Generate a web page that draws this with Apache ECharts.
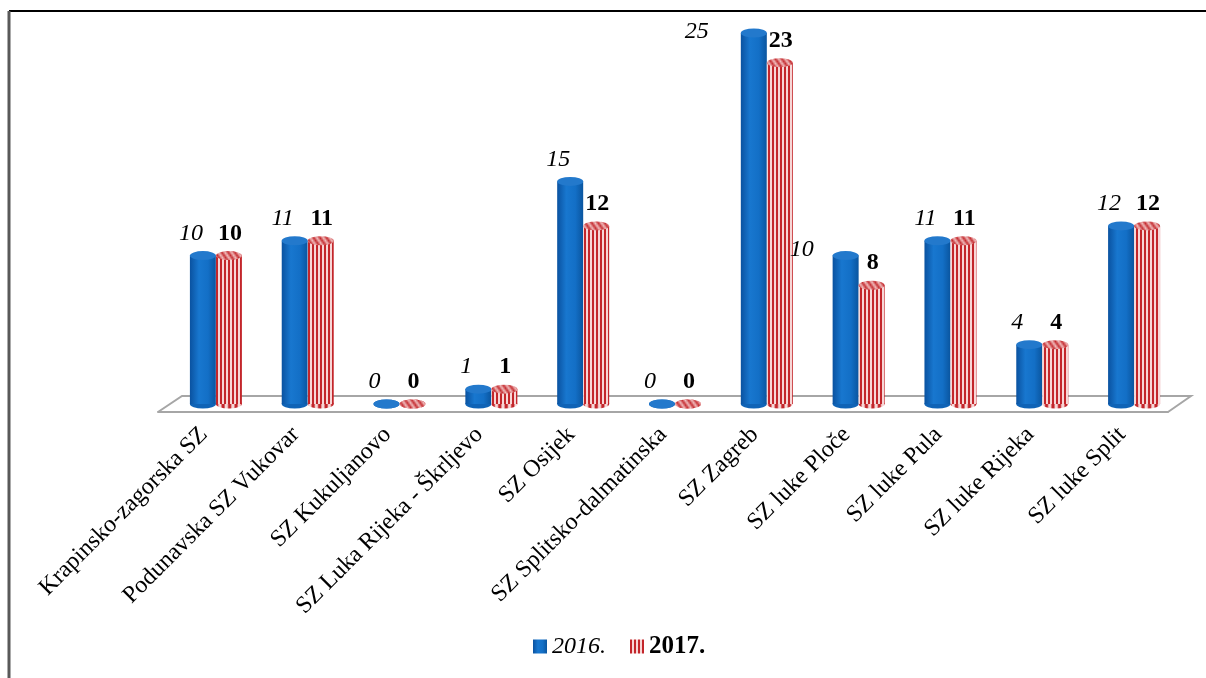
<!DOCTYPE html>
<html>
<head>
<meta charset="utf-8">
<script src="https://cdn.jsdelivr.net/npm/echarts@6/dist/echarts.min.js"></script>
<style>
  html, body { margin: 0; padding: 0; background: #fff; }
  #chart { width: 1206px; height: 678px; }
</style>
</head>
<body>
<div id="chart"></div>
<script>
  const categories = [
    'Krapinsko-zagorska SZ', 'Podunavska SZ Vukovar', 'SZ Kukuljanovo',
    'SZ Luka Rijeka - Škrljevo', 'SZ Osijek', 'SZ Splitsko-dalmatinska',
    'SZ Zagreb', 'SZ luke Ploče', 'SZ luke Pula', 'SZ luke Rijeka', 'SZ luke Split'
  ];
  const values2016 = [10, 11, 0, 1, 15, 0, 25, 10, 11, 4, 12];
  const values2017 = [10, 11, 0, 1, 12, 0, 23, 8, 11, 4, 12];

  const serif = '"Times New Roman", "Liberation Serif", serif';

  // red vertical stripes for 2017
  function stripes() {
    let c = document.createElement('canvas');
    c.width = 4; c.height = 4;
    let ctx = c.getContext('2d');
    ctx.fillStyle = '#f7d6d6';
    ctx.fillRect(0, 0, 4, 4);
    ctx.fillStyle = '#c3262b';
    ctx.fillRect(0, 0, 2, 4);
    return c;
  }
  // diagonal hatch for the tops
  function hatch() {
    let c = document.createElement('canvas');
    c.width = 4; c.height = 4;
    let ctx = c.getContext('2d');
    ctx.fillStyle = '#f2c4c4';
    ctx.fillRect(0, 0, 4, 4);
    ctx.strokeStyle = '#c3262b';
    ctx.lineWidth = 1.4;
    ctx.beginPath();
    ctx.moveTo(0, 4); ctx.lineTo(4, 0);
    ctx.moveTo(-1, 1); ctx.lineTo(1, -1);
    ctx.moveTo(3, 5); ctx.lineTo(5, 3);
    ctx.stroke();
    return c;
  }

  const blueBody = new echarts.graphic.LinearGradient(0, 0, 1, 0, [
    { offset: 0, color: '#0a52a0' },
    { offset: 0.35, color: '#1877cf' },
    { offset: 0.7, color: '#136fc6' },
    { offset: 1, color: '#0a559f' }
  ]);
  const redBody = { image: stripes(), repeat: 'repeat' };

  // 2016 labels for the tallest / crowded bars sit beside the top
  const data2016 = values2016.map(function (v, i) {
    if (i === 6) return { value: v, label: { position: [-44, -13] } };
    if (i === 7) return { value: v, label: { position: [-31, -18] } };
    return v;
  });

  let chart = echarts.init(document.getElementById('chart'));
  chart.setOption({
    animation: false,
    textStyle: { fontFamily: serif },
    grid: [
      { left: 170, right: 26, top: 33, bottom: 274 },
      { left: 158, right: 38, top: 33, bottom: 266 }
    ],
    xAxis: [
      { type: 'category', gridIndex: 0, data: categories, show: false },
      { type: 'category', gridIndex: 1, data: categories,
        axisLine: { lineStyle: { color: '#a6a6a6', width: 2 } },
        axisTick: { length: 8, lineStyle: { color: '#a6a6a6', width: 2 } },
        axisLabel: { rotate: 45, fontSize: 24, color: '#000', fontFamily: serif, margin: 19, interval: 0 } },
      { type: 'category', gridIndex: 0, data: categories, show: false }
    ],
    yAxis: [
      { type: 'value', gridIndex: 0, min: 0, max: 25, show: false },
      { type: 'value', gridIndex: 1, min: 0, max: 1, show: false }
    ],
    legend: {
      bottom: 14,
      left: 528,
      icon: 'rect',
      itemWidth: 14,
      itemHeight: 14,
      itemGap: 24,
      textStyle: { fontSize: 24, color: '#000', fontFamily: serif },
      data: [
        { name: '2016.', textStyle: { fontStyle: 'italic' } },
        { name: '2017.', textStyle: { fontWeight: 'bold', fontSize: 25 } }
      ]
    },
    graphic: [
      { type: 'line', shape: { x1: 9, y1: 11, x2: 1206, y2: 11 }, style: { stroke: '#000', lineWidth: 2 } },
      { type: 'line', shape: { x1: 9, y1: 11, x2: 9, y2: 678 }, style: { stroke: '#595959', lineWidth: 3 } },
      { type: 'polyline', shape: { points: [[158, 412], [182, 396], [1191, 396], [1168, 412]] },
        style: { stroke: '#a6a6a6', lineWidth: 2, fill: null }, z: -1 }
    ],
    series: [
      {
        name: '2016.', type: 'bar', xAxisIndex: 0, yAxisIndex: 0,
        data: data2016, barWidth: 26, barGap: 0, z: 3,
        itemStyle: { color: blueBody },
        label: { show: true, position: 'top', distance: 10, offset: [-12, 0],
          fontSize: 24, fontStyle: 'italic', color: '#000', fontFamily: serif }
      },
      {
        name: '2017.', type: 'bar', xAxisIndex: 0, yAxisIndex: 0,
        data: values2017, barWidth: 26, barGap: 0, z: 3,
        itemStyle: { color: redBody },
        label: { show: true, position: 'top', distance: 10, offset: [1, 0],
          fontSize: 24, fontWeight: 'bold', color: '#000', fontFamily: serif }
      },
      {
        type: 'pictorialBar', xAxisIndex: 0, yAxisIndex: 0,
        data: values2016, barWidth: 26, barGap: 0, z: 4,
        symbol: 'circle', symbolSize: [26, 9], symbolPosition: 'end', symbolOffset: [0, '-50%'],
        itemStyle: { color: '#2379cc' }
      },
      {
        type: 'pictorialBar', xAxisIndex: 0, yAxisIndex: 0,
        data: values2017, barWidth: 26, barGap: 0, z: 4,
        symbol: 'circle', symbolSize: [26, 9], symbolPosition: 'end', symbolOffset: [0, '-50%'],
        itemStyle: { color: { image: hatch(), repeat: 'repeat' } }
      },
      {
        type: 'pictorialBar', xAxisIndex: 2, yAxisIndex: 0,
        data: values2016, barWidth: 26, barGap: 0, z: 2,
        symbol: 'circle', symbolSize: [26, 9], symbolPosition: 'start', symbolOffset: [0, '50%'],
        itemStyle: { color: '#0f63b6' }
      },
      {
        type: 'pictorialBar', xAxisIndex: 2, yAxisIndex: 0,
        data: values2017, barWidth: 26, barGap: 0, z: 2,
        symbol: 'circle', symbolSize: [26, 9], symbolPosition: 'start', symbolOffset: [0, '50%'],
        itemStyle: { color: redBody }
      }
    ]
  });
</script>
</body>
</html>
